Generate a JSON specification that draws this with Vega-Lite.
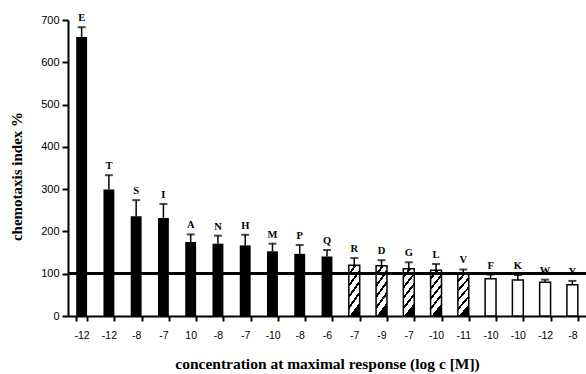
{
  "$schema": "https://vega.github.io/schema/vega-lite/v6.json",
  "autosize": "none",
  "width": 518,
  "height": 296,
  "padding": {"left": 68, "top": 20, "right": 0, "bottom": 58},
  "background": "white",
  "config": {
    "view": {"stroke": null},
    "axis": {
      "domainColor": "black", "domainWidth": 2, "tickColor": "black", "tickWidth": 2,
      "labelFont": "Liberation Sans", "labelColor": "black", "grid": false,
      "titleFont": "Liberation Serif", "titleFontWeight": "bold", "titleColor": "black"
    }
  },
  "data": {"values": [
    {"letter": "E", "conc": "-12", "value": 660, "upper": 683, "group": "dots"},
    {"letter": "T", "conc": "-12", "value": 299, "upper": 333, "group": "dots"},
    {"letter": "S", "conc": "-8", "value": 236, "upper": 274, "group": "dots"},
    {"letter": "I", "conc": "-7", "value": 232, "upper": 265, "group": "dots"},
    {"letter": "A", "conc": "10", "value": 175, "upper": 193, "group": "dots"},
    {"letter": "N", "conc": "-8", "value": 171, "upper": 190, "group": "dots"},
    {"letter": "H", "conc": "-7", "value": 167, "upper": 192, "group": "dots"},
    {"letter": "M", "conc": "-10", "value": 153, "upper": 171, "group": "dots"},
    {"letter": "P", "conc": "-8", "value": 147, "upper": 168, "group": "dots"},
    {"letter": "Q", "conc": "-6", "value": 141, "upper": 156, "group": "dots"},
    {"letter": "R", "conc": "-7", "value": 120, "upper": 137, "group": "hatch"},
    {"letter": "D", "conc": "-9", "value": 119, "upper": 132, "group": "hatch"},
    {"letter": "G", "conc": "-7", "value": 112, "upper": 127, "group": "hatch"},
    {"letter": "L", "conc": "-10", "value": 108, "upper": 123, "group": "hatch"},
    {"letter": "V", "conc": "-11", "value": 100, "upper": 110, "group": "hatch"},
    {"letter": "F", "conc": "-10", "value": 88, "upper": 98, "group": "open"},
    {"letter": "K", "conc": "-10", "value": 85, "upper": 97, "group": "open"},
    {"letter": "W", "conc": "-12", "value": 80, "upper": 86, "group": "open"},
    {"letter": "Y", "conc": "-8", "value": 74, "upper": 83, "group": "open"}
  ]},
  "layer": [
    {
      "transform": [{"filter": "datum.group === 'dots'"}],
      "mark": {"type": "bar", "fill": "black"},
      "encoding": {
        "x": {"field": "letter", "type": "nominal", "sort": null,
          "scale": {"paddingInner": 0.6, "paddingOuter": 0.3},
          "axis": {"title": "concentration at maximal response (log c [M])", "labelAngle": 0,
            "labelExpr": "split('-12,-12,-8,-7,10,-8,-7,-10,-8,-6,-7,-9,-7,-10,-11,-10,-10,-12,-8', ',')[indexof('ETSIANHMPQRDGLVFKWY', datum.value)]",
            "tickBand": "extent", "tickSize": 5, "labelFontSize": 10.5, "labelPadding": 9, "titlePadding": 16, "titleFontSize": 15.5}},
        "y": {"field": "value", "type": "quantitative",
          "scale": {"domain": [0, 700], "nice": false},
          "axis": {"title": "chemotaxis index %", "values": [0,100,200,300,400,500,600,700], "tickSize": 6, "labelFontSize": 11, "labelPadding": 3, "titlePadding": 16, "titleFontSize": 15, "titleY": 156}}
      }
    },
    {
      "transform": [{"filter": "datum.group === 'hatch'"}],
      "mark": {"type": "bar", "stroke": "black", "strokeWidth": 1.5,
        "fill": {"gradient": "linear", "x1": 0, "y1": 0, "x2": 0.3, "y2": 1, "stops": [
          {"offset": 0, "color": "white"}, {"offset": 0.14, "color": "white"}, {"offset": 0.14, "color": "black"}, {"offset": 0.2, "color": "black"},
          {"offset": 0.2, "color": "white"}, {"offset": 0.34, "color": "white"}, {"offset": 0.34, "color": "black"}, {"offset": 0.4, "color": "black"},
          {"offset": 0.4, "color": "white"}, {"offset": 0.54, "color": "white"}, {"offset": 0.54, "color": "black"}, {"offset": 0.6, "color": "black"},
          {"offset": 0.6, "color": "white"}, {"offset": 0.74, "color": "white"}, {"offset": 0.74, "color": "black"}, {"offset": 0.8, "color": "black"},
          {"offset": 0.8, "color": "white"}, {"offset": 0.94, "color": "white"}, {"offset": 0.94, "color": "black"}, {"offset": 1, "color": "black"}
        ]}},
      "encoding": {
        "x": {"field": "letter", "type": "nominal", "sort": null},
        "y": {"field": "value", "type": "quantitative"}
      }
    },
    {
      "transform": [{"filter": "datum.group === 'open'"}],
      "mark": {"type": "bar", "fill": "white", "stroke": "black", "strokeWidth": 1.5},
      "encoding": {
        "x": {"field": "letter", "type": "nominal", "sort": null},
        "y": {"field": "value", "type": "quantitative"}
      }
    },
    {
      "mark": {"type": "rule", "color": "black", "strokeWidth": 1.5},
      "encoding": {
        "x": {"field": "letter", "type": "nominal", "sort": null},
        "y": {"field": "value", "type": "quantitative"},
        "y2": {"field": "upper"}
      }
    },
    {
      "mark": {"type": "tick", "color": "black", "size": 8, "thickness": 2},
      "encoding": {
        "x": {"field": "letter", "type": "nominal", "sort": null},
        "y": {"field": "upper", "type": "quantitative"}
      }
    },
    {
      "mark": {"type": "text", "font": "Liberation Serif", "fontWeight": "bold", "fontSize": 10.5, "baseline": "bottom", "dy": -4, "color": "black"},
      "encoding": {
        "x": {"field": "letter", "type": "nominal", "sort": null},
        "y": {"field": "upper", "type": "quantitative"},
        "text": {"field": "letter"}
      }
    },
    {
      "mark": {"type": "rule", "color": "black", "strokeWidth": 2},
      "encoding": {"y": {"datum": 100}}
    }
  ]
}
